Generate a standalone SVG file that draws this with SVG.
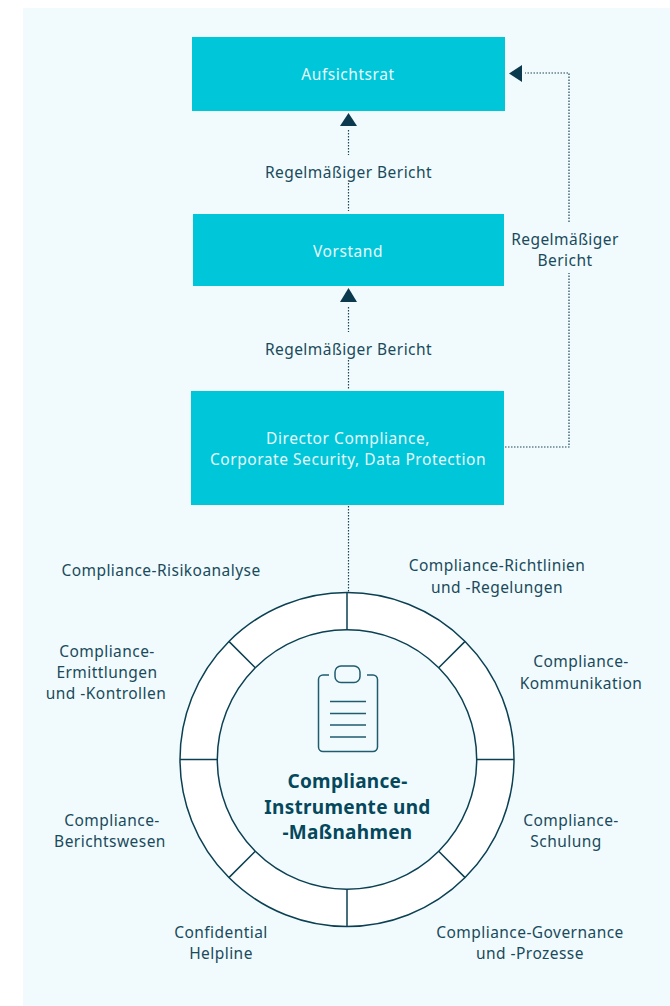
<svg xmlns="http://www.w3.org/2000/svg" width="670" height="1006" viewBox="0 0 670 1006">
<style>
.box{fill:#00c6da}
.w{font:15.5px "Noto Sans",sans-serif;fill:#e6fafc;text-anchor:middle;letter-spacing:.55px}
.t{font:15.5px "Noto Sans",sans-serif;fill:#1a4a5c;text-anchor:middle;letter-spacing:.45px}
.b{font:bold 19px "Noto Sans",sans-serif;fill:#05485c;text-anchor:middle;letter-spacing:.3px}
.dot{fill:none;stroke:#1d4557;stroke-width:1.2;stroke-dasharray:1.5 1.5}
.ln{stroke:#0b4053;stroke-width:1.5;fill:none}
.ah{fill:#0b3a4e}
</style>
<rect x="23" y="8" width="647" height="998" fill="#f1fbfd"/>
<g id="connectors">
<path class="dot" d="M348.500 130V155M348.500 183V211M348.500 307V332M348.500 360V390M348.500 506V592M505 447H569V273M569 222V73H525"/>
<path class="ah" d="M340 126L348.500 113L357 126Z"/>
<path class="ah" d="M340 302L348.500 288L357 302Z"/>
<path class="ah" d="M522 65V82L509 73.500Z"/>
</g>
<g id="aufsichtsrat"><rect class="box" x="192" y="37" width="313" height="74"/><text class="w" x="348" y="80">Aufsichtsrat</text></g>
<g id="vorstand"><rect class="box" x="193" y="214" width="311" height="72"/><text class="w" x="348" y="257">Vorstand</text></g>
<g id="director"><rect class="box" x="191" y="391" width="313" height="114"/><text class="w" x="348" y="444">Director Compliance,</text><text class="w" x="348" y="465">Corporate Security, Data Protection</text></g>
<g id="label-1"><text class="t" x="348.500" y="178">Regelmäßiger Bericht</text></g>
<g id="label-2"><text class="t" x="348.500" y="355">Regelmäßiger Bericht</text></g>
<g id="label-3"><text class="t" x="565" y="245">Regelmäßiger</text><text class="t" x="565" y="266">Bericht</text></g>
<g id="ring">
<circle cx="347" cy="759.500" r="167" fill="#fff" stroke="#0b4053" stroke-width="1.5"/>
<circle cx="347" cy="759.500" r="129.700" fill="#f1fbfd" stroke="#0b4053" stroke-width="1.5"/>
<path class="ln" d="M347 592.500V629.800M347 889.200V926.500M180 759.500H217.300M476.700 759.500H514M228.900 641.400L255.300 667.800M438.700 851.200L465.100 877.600M465.100 641.400L438.700 667.800M255.300 851.200L228.900 877.600"/>
</g>
<g id="clipboard" fill="none" stroke="#1f5c70" stroke-width="1.5">
<rect x="335" y="666" width="25" height="16.500" rx="6"/>
<path d="M329 675H323A4.500 4.500 0 0 0 318.500 679.500V747A4.500 4.500 0 0 0 323 751.500H373A4.500 4.500 0 0 0 377.500 747V679.500A4.500 4.500 0 0 0 373 675H367"/>
<path d="M330 701.500H366M330 713.500H366M330 725H366M330 737H366"/>
</g>
<g id="center"><text class="b" x="347.500" y="788">Compliance-</text><text class="b" x="347.500" y="814">Instrumente und</text><text class="b" x="347.500" y="839">-Maßnahmen</text></g>
<g id="seg-1"><text class="t" x="161" y="576">Compliance-Risikoanalyse</text></g>
<g id="seg-2"><text class="t" x="497" y="571">Compliance-Richtlinien</text><text class="t" x="497" y="593">und -Regelungen</text></g>
<g id="seg-3"><text class="t" x="581" y="667">Compliance-</text><text class="t" x="581" y="689">Kommunikation</text></g>
<g id="seg-4"><text class="t" x="571" y="826">Compliance-</text><text class="t" x="566" y="847">Schulung</text></g>
<g id="seg-5"><text class="t" x="530" y="938">Compliance-Governance</text><text class="t" x="530" y="959">und -Prozesse</text></g>
<g id="seg-6"><text class="t" x="221" y="938">Confidential</text><text class="t" x="221" y="959">Helpline</text></g>
<g id="seg-7"><text class="t" x="112" y="826">Compliance-</text><text class="t" x="110" y="847">Berichtswesen</text></g>
<g id="seg-8"><text class="t" x="107" y="657">Compliance-</text><text class="t" x="107" y="678">Ermittlungen</text><text class="t" x="106" y="699">und -Kontrollen</text></g>
</svg>
